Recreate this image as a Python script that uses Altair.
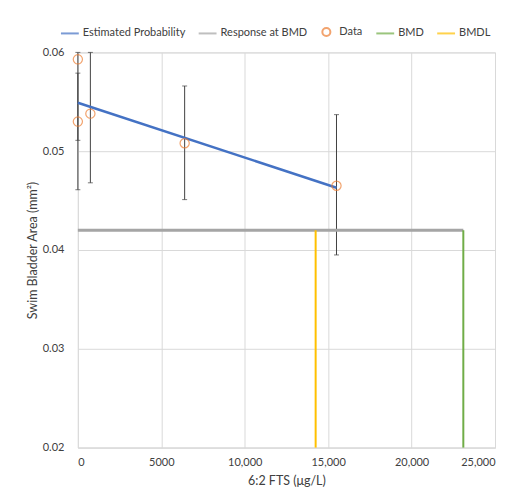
import altair as alt
import pandas as pd

# Data points with error bars
dose = [0, 0, 750, 6400, 15500]
resp = [0.0593, 0.0530, 0.0538, 0.0508, 0.0465]
err_lo = [0.0511, 0.0461, 0.0468, 0.0451, 0.0395]
err_hi = [0.0600, 0.0579, 0.0600, 0.0566, 0.0537]

# Estimated curve endpoints
est_x = [0, 15500]
est_y = [0.0549, 0.0463]

bmd = 23100
bmdl = 14250
resp_bmd = 0.0420
y_min = 0.02

series = ["Estimated Probability", "Response at BMD", "Data", "BMD", "BMDL"]
colors = ["#4472C4", "#A5A5A5", "#ED7D31", "#70AD47", "#FFC000"]
RING = "M -0.45 0 A 0.45 0.45 0 1 1 0.45 0 A 0.45 0.45 0 1 1 -0.45 0 Z"
shapes = ["stroke", "stroke", RING, "stroke", "stroke"]

FONT = "Lato"

color_scale = alt.Scale(domain=series, range=colors)
shape_scale = alt.Scale(domain=series, range=shapes)

xs = alt.Scale(domain=[0, 25000], nice=False)
ys = alt.Scale(domain=[0.02, 0.06], nice=False, clamp=True)

x_axis = alt.Axis(
    title="6:2 FTS (μg/L)", values=[0, 5000, 10000, 15000, 20000, 25000],
    labelExpr="datum.value >= 10000 ? format(datum.value, ',') : format(datum.value, 'd')",
    grid=True, gridColor="#D9D9D9", domainColor="#D9D9D9", ticks=False,
    labelPadding=9, titlePadding=7, labelFontSize=11, titleFontSize=12.5,
    labelColor="#404040", titleColor="#404040", titleFontWeight="normal",
    labelFont=FONT, titleFont=FONT,
)
y_axis = alt.Axis(
    title="Swim Bladder Area (mm²)", values=[0.02, 0.03, 0.04, 0.05, 0.06],
    format=".2f", grid=True, gridColor="#D9D9D9", domain=False, ticks=False,
    labelPadding=14, titlePadding=3, labelFontSize=11, titleFontSize=12.5,
    labelColor="#404040", titleColor="#404040", titleFontWeight="normal",
    labelFont=FONT, titleFont=FONT,
)

legend = alt.Legend(
    title=None, orient="none", direction="horizontal", legendX=-18, legendY=-31,
    symbolSize=320, symbolStrokeWidth=2, symbolFillColor="transparent",
    labelFontSize=11, labelFont=FONT, labelColor="#404040", columnPadding=9,
    labelOffset=3,
)

df_data = pd.DataFrame({"dose": dose, "resp": resp, "lo": err_lo, "hi": err_hi,
                        "series": ["Data"] * len(dose)})
df_est = pd.DataFrame({"dose": est_x, "resp": est_y,
                       "series": ["Estimated Probability"] * len(est_x)})
df_resp = pd.DataFrame({"x": [0], "x2": [bmd], "y": [resp_bmd], "series": ["Response at BMD"]})
df_vert = pd.DataFrame({"x": [bmd, bmdl], "y": [y_min, y_min], "y2": [resp_bmd, resp_bmd],
                        "series": ["BMD", "BMDL"]})

stk = alt.Stroke("series:N", scale=color_scale, legend=legend)
shp = alt.Shape("series:N", scale=shape_scale, legend=legend)

err = alt.Chart(df_data).mark_rule(color="#404040", strokeWidth=1).encode(
    x=alt.X("dose:Q", scale=xs, axis=x_axis),
    y=alt.Y("lo:Q", scale=ys, axis=y_axis), y2="hi:Q")
cap_lo = alt.Chart(df_data).mark_tick(color="#404040", orient="horizontal", size=5, thickness=1).encode(
    x="dose:Q", y="lo:Q")
cap_hi = alt.Chart(df_data).mark_tick(color="#404040", orient="horizontal", size=5, thickness=1).encode(
    x="dose:Q", y="hi:Q")

pts = alt.Chart(df_data).mark_point(filled=False, fill="transparent", size=420, strokeWidth=1.2).encode(
    x="dose:Q", y="resp:Q", stroke=stk, shape=shp)
resp_rule = alt.Chart(df_resp).mark_rule(strokeWidth=3).encode(
    x="x:Q", x2="x2:Q", y="y:Q", stroke=stk)
vert = alt.Chart(df_vert).mark_rule(strokeWidth=2).encode(
    x="x:Q", y="y:Q", y2="y2:Q", stroke=stk)
est = alt.Chart(df_est).mark_line(strokeWidth=2.5).encode(
    x="dose:Q", y="resp:Q", stroke=stk)

chart = alt.layer(err, cap_lo, cap_hi, resp_rule, vert, est, pts).properties(
    width=418, height=396,
    autosize=alt.AutoSizeParams(type="none"),
    padding={"left": 70, "top": 44, "right": 10, "bottom": 40},
).configure_view(stroke="#D9D9D9").configure_legend(
    symbolBaseFillColor="transparent"
).configure(background="white")

chart.save("out.html", embed_options={"renderer": "svg", "actions": False})
